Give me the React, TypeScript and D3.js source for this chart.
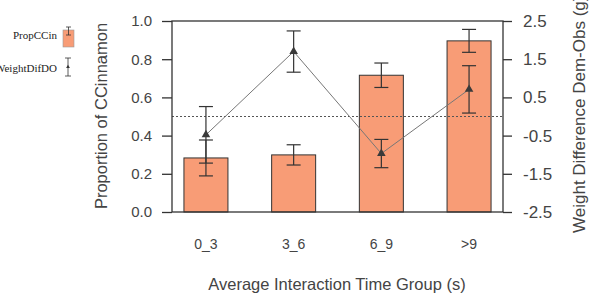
import React, { useRef, useEffect } from "react";
import * as d3 from "d3";

// Chart data
const categories = ["0_3", "3_6", "6_9", ">9"];
const propValues = [0.283, 0.299, 0.716, 0.896];
const propErrors = [0.094, 0.053, 0.064, 0.06];
const weightValues = [-0.48, 1.7, -0.97, 0.71];
const weightErrors = [0.74, 0.54, 0.37, 0.62];
const leftTicks = [0, 0.2, 0.4, 0.6, 0.8, 1.0];
const rightTicks = [-2.5, -1.5, -0.5, 0.5, 1.5, 2.5];

const App = () => {
  const svgRef = useRef<SVGSVGElement>(null);

  useEffect(() => {
    const width = 589,
      height = 294;
    const box = { left: 172, right: 503, top: 21, bottom: 212 };

    d3.select(svgRef.current).selectAll("*").remove();
    const svg = d3
      .select(svgRef.current)
      .attr("width", width)
      .attr("height", height)
      .style("font-family", "'Liberation Sans', Arial, sans-serif");

    const x = d3
      .scalePoint<string>()
      .domain(categories)
      .range([box.left, box.right])
      .padding(0.387);
    const yL = d3.scaleLinear().domain([0, 1]).range([box.bottom, box.top]);
    const yR = d3.scaleLinear().domain([-2.5, 2.5]).range([box.bottom, box.top]);

    const barW = 44;
    const cap = 7;
    const ink = "#333";
    const fmt = (d: d3.NumberValue) => (+d).toFixed(1);

    // bars
    svg
      .append("g")
      .selectAll("rect")
      .data(categories)
      .join("rect")
      .attr("x", (d) => x(d)! - barW / 2)
      .attr("y", (d, i) => yL(propValues[i]))
      .attr("width", barW)
      .attr("height", (d, i) => yL(0) - yL(propValues[i]))
      .attr("fill", "#f89c76")
      .attr("stroke", ink)
      .attr("stroke-width", 1);

    // error bars helper
    const drawErr = (vals: number[], errs: number[], scale: d3.ScaleLinear<number, number>) => {
      const g = svg.append("g").attr("stroke", ink).attr("stroke-width", 1.2);
      categories.forEach((c, i) => {
        const cx = x(c)!;
        const y1 = scale(vals[i] + errs[i]);
        const y2 = scale(vals[i] - errs[i]);
        g.append("line").attr("x1", cx).attr("x2", cx).attr("y1", y1).attr("y2", y2);
        g.append("line").attr("x1", cx - cap).attr("x2", cx + cap).attr("y1", y1).attr("y2", y1);
        g.append("line").attr("x1", cx - cap).attr("x2", cx + cap).attr("y1", y2).attr("y2", y2);
      });
    };
    drawErr(propValues, propErrors, yL);

    // dotted reference line at 0.5 / 0
    svg
      .append("line")
      .attr("x1", box.left)
      .attr("x2", box.right)
      .attr("y1", yR(0))
      .attr("y2", yR(0))
      .attr("stroke", "#555")
      .attr("stroke-width", 1)
      .attr("stroke-dasharray", "2,2");

    // weight line + error bars + triangles
    const line = d3
      .line<number>()
      .x((d, i) => x(categories[i])!)
      .y((d) => yR(d));
    svg
      .append("path")
      .datum(weightValues)
      .attr("d", line)
      .attr("fill", "none")
      .attr("stroke", "#777")
      .attr("stroke-width", 1);
    drawErr(weightValues, weightErrors, yR);
    svg
      .append("g")
      .selectAll("path")
      .data(weightValues)
      .join("path")
      .attr("d", d3.symbol().type(d3.symbolTriangle).size(32)())
      .attr("transform", (d, i) => `translate(${x(categories[i])},${yR(d)})`)
      .attr("fill", "#3a3a3a");

    // frame
    svg
      .append("rect")
      .attr("x", box.left)
      .attr("y", box.top)
      .attr("width", box.right - box.left)
      .attr("height", box.bottom - box.top)
      .attr("fill", "none")
      .attr("stroke", ink)
      .attr("stroke-width", 1.3);

    // left axis
    const leftAxis = svg
      .append("g")
      .attr("transform", `translate(${box.left},0)`)
      .call(d3.axisLeft(yL).tickValues(leftTicks).tickFormat(fmt).tickSize(10).tickPadding(10));
    leftAxis.select(".domain").remove();
    leftAxis.selectAll("line").attr("stroke", ink).attr("stroke-width", 1.3);
    leftAxis
      .selectAll("text")
      .attr("font-size", 15)
      .attr("fill", "#444")
      .style("font-family", "'Liberation Sans', Arial, sans-serif");

    // right axis
    const rightAxis = svg
      .append("g")
      .attr("transform", `translate(${box.right},0)`)
      .call(d3.axisRight(yR).tickValues(rightTicks).tickFormat(fmt).tickSize(9).tickPadding(11));
    rightAxis.select(".domain").remove();
    rightAxis.selectAll("line").attr("stroke", ink).attr("stroke-width", 1.3);
    rightAxis
      .selectAll("text")
      .attr("font-size", 17)
      .attr("fill", "#444")
      .style("font-family", "'Liberation Sans', Arial, sans-serif");

    // category labels
    svg
      .append("g")
      .selectAll("text")
      .data(categories)
      .join("text")
      .attr("x", (d) => x(d)!)
      .attr("y", 249)
      .attr("text-anchor", "middle")
      .attr("font-size", 14)
      .attr("fill", "#444")
      .text((d) => d);

    // axis titles
    svg
      .append("text")
      .attr("x", 337)
      .attr("y", 290)
      .attr("text-anchor", "middle")
      .attr("font-size", 16.5)
      .attr("fill", "#444")
      .text("Average Interaction Time Group (s)");
    svg
      .append("text")
      .attr("transform", `translate(107,116) rotate(-90)`)
      .attr("text-anchor", "middle")
      .attr("font-size", 16.5)
      .attr("fill", "#444")
      .text("Proportion of CCinnamon");
    svg
      .append("text")
      .attr("transform", `translate(585,233) rotate(-90)`)
      .attr("text-anchor", "start")
      .attr("font-size", 17)
      .attr("fill", "#444")
      .text("Weight Difference Dem-Obs (g)");

    // legend
    const lg = svg.append("g").style("font-family", "'Liberation Serif', 'Times New Roman', serif");
    lg.append("text").attr("x", 57).attr("y", 39).attr("text-anchor", "end").attr("font-size", 11).attr("fill", "#222").text("PropCCin");
    lg.append("rect").attr("x", 63).attr("y", 30).attr("width", 11).attr("height", 17).attr("fill", "#f89c76").attr("stroke", "#999").attr("stroke-width", 0.6);
    lg.append("line").attr("x1", 68.5).attr("x2", 68.5).attr("y1", 27).attr("y2", 35).attr("stroke", ink).attr("stroke-width", 0.8);
    lg.append("line").attr("x1", 66).attr("x2", 71).attr("y1", 27).attr("y2", 27).attr("stroke", ink).attr("stroke-width", 0.8);
    lg.append("line").attr("x1", 66).attr("x2", 71).attr("y1", 35).attr("y2", 35).attr("stroke", ink).attr("stroke-width", 0.8);
    lg.append("text").attr("x", 57).attr("y", 72).attr("text-anchor", "end").attr("font-size", 11).attr("fill", "#222").text("WeightDifDO");
    lg.append("line").attr("x1", 68).attr("x2", 68).attr("y1", 58).attr("y2", 76).attr("stroke", ink).attr("stroke-width", 0.8);
    lg.append("line").attr("x1", 65).attr("x2", 71).attr("y1", 58).attr("y2", 58).attr("stroke", ink).attr("stroke-width", 0.8);
    lg.append("line").attr("x1", 65).attr("x2", 71).attr("y1", 76).attr("y2", 76).attr("stroke", ink).attr("stroke-width", 0.8);
    lg.append("path").attr("d", d3.symbol().type(d3.symbolTriangle).size(6)()).attr("transform", "translate(68,67)").attr("fill", ink);
  }, []);

  return <svg ref={svgRef} style={{ position: "absolute", left: 0, top: 0 }}></svg>;
};

export default App;
